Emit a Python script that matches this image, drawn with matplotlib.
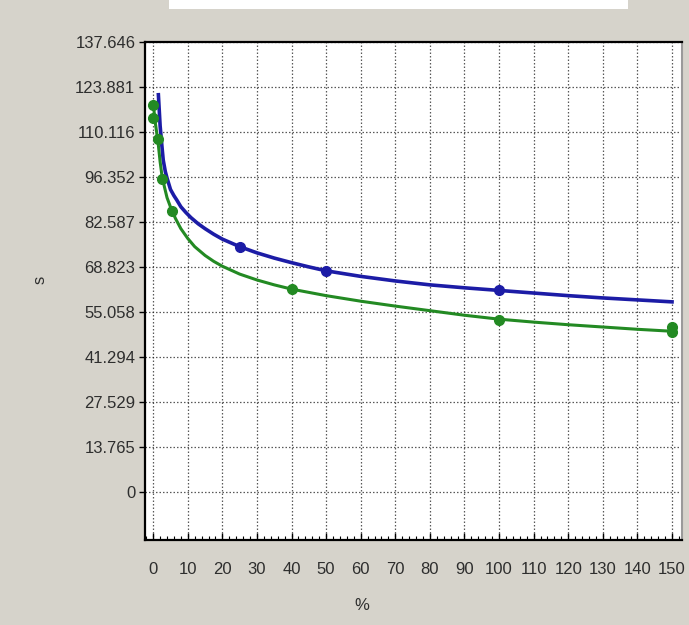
import numpy as np
import matplotlib
matplotlib.use("Agg")
import matplotlib.pyplot as plt
from matplotlib.patches import Rectangle
from matplotlib.ticker import MultipleLocator

# fitted curves
blue_x = [1.5, 2, 2.5, 2.9, 3.5, 4, 5, 6, 6.8, 8, 9.5, 10.9, 13, 15, 17.5,
          20, 25, 30, 35, 40, 45, 50, 60, 70, 80, 90, 100, 110, 120, 130,
          140, 150]
blue_y = [121.5, 112, 106, 101.5, 98, 96, 92.5, 90.6, 89.3, 87.2, 85.4,
          83.9, 82.0, 80.5, 78.8, 77.3, 75.0, 73.1, 71.5, 70.1, 68.8, 67.6,
          65.9, 64.5, 63.3, 62.4, 61.6, 60.8, 60.0, 59.3, 58.7, 58.1]
green_x = [0.2, 0.6, 1, 1.5, 2, 2.5, 3.2, 4, 5.4, 6.5, 8, 10, 12, 15, 17.5,
           20, 25, 30, 35, 40, 50, 60, 70, 80, 90, 100, 110, 120, 130, 140,
           150]
green_y = [117, 113, 110, 106, 101, 97, 93.5, 90, 86, 83.5, 80.5, 77.5,
           75.0, 72.3, 70.5, 69.0, 66.6, 64.8, 63.3, 62.0, 60.0, 58.3, 56.8,
           55.4, 54.0, 52.8, 51.9, 51.1, 50.4, 49.7, 49.1]

# measured points
blue_pts_x = [25, 50, 100]
blue_pts_y = [74.9, 67.4, 61.7]
green_pts_x = [0, 0, 1.5, 2.5, 5.4, 40, 100, 150, 150]
green_pts_y = [118.5, 114.4, 107.8, 95.6, 85.9, 62.0, 52.6, 50.3, 49.0]

ytick_vals = [0, 13.765, 27.529, 41.294, 55.058, 68.823, 82.587, 96.352,
              110.116, 123.881, 137.646]
ytick_labels = ["0", "13.765", "27.529", "41.294", "55.058", "68.823",
                "82.587", "96.352", "110.116", "123.881", "137.646"]
xtick_vals = list(range(0, 151, 10))

bg = "#d6d3cb"
txt = "#2e2e2e"
plt.rcParams["font.family"] = ["Liberation Sans", "DejaVu Sans"]

W, H = 689, 625
fig = plt.figure(figsize=(W / 100, H / 100), dpi=100, facecolor=bg)
fig.patches.append(Rectangle((169 / W, 1 - 9 / H), (628 - 169) / W, 9 / H,
                             transform=fig.transFigure, facecolor="white",
                             edgecolor="none"))

ax = fig.add_axes([145 / W, 1 - 540 / H, (681.7 - 145) / W, (540 - 42) / H])
ax.set_facecolor("white")

ax.plot(blue_x, blue_y, color="#1c1ca6", lw=2.6, zorder=3)
ax.plot(green_x, green_y, color="#238a23", lw=2.2, zorder=3)
ax.plot(blue_pts_x, blue_pts_y, "o", color="#1c1ca6", ms=7, zorder=4)
ax.plot(green_pts_x, green_pts_y, "o", color="#238a23", ms=7, zorder=4)

ax.set_xlim(-2.37, 152.8)
ax.set_ylim(-14.8, 137.646)
ax.set_xticks(xtick_vals)
ax.set_xticklabels([str(v) for v in xtick_vals])
ax.set_yticks(ytick_vals)
ax.set_yticklabels(ytick_labels)
ax.xaxis.set_minor_locator(MultipleLocator(2))

ax.grid(True, color="#222222", linestyle=(0, (1.2, 1.6)), lw=0.9, alpha=0.75)
ax.set_axisbelow(True)

ax.tick_params(axis="y", direction="out", length=4, width=1, pad=3,
               labelsize=12, labelcolor=txt)
ax.tick_params(axis="x", direction="in", length=5, width=1, pad=16,
               labelsize=12, labelcolor=txt)
ax.tick_params(axis="x", which="minor", direction="in", length=3, width=0.8)

for side in ["left", "bottom", "top"]:
    ax.spines[side].set_color("black")
    ax.spines[side].set_linewidth(1.6)
ax.spines["right"].set_color("#9a9a9a")
ax.spines["right"].set_linewidth(1.5)

fig.text(362 / W, 1 - 606 / H, "%", ha="center", va="center",
         fontsize=12, color=txt)
fig.text(40 / W, 1 - 280 / H, "s", ha="center", va="center",
         fontsize=12, color=txt, rotation=90)

fig.savefig("out.png", dpi=100, facecolor=bg)
